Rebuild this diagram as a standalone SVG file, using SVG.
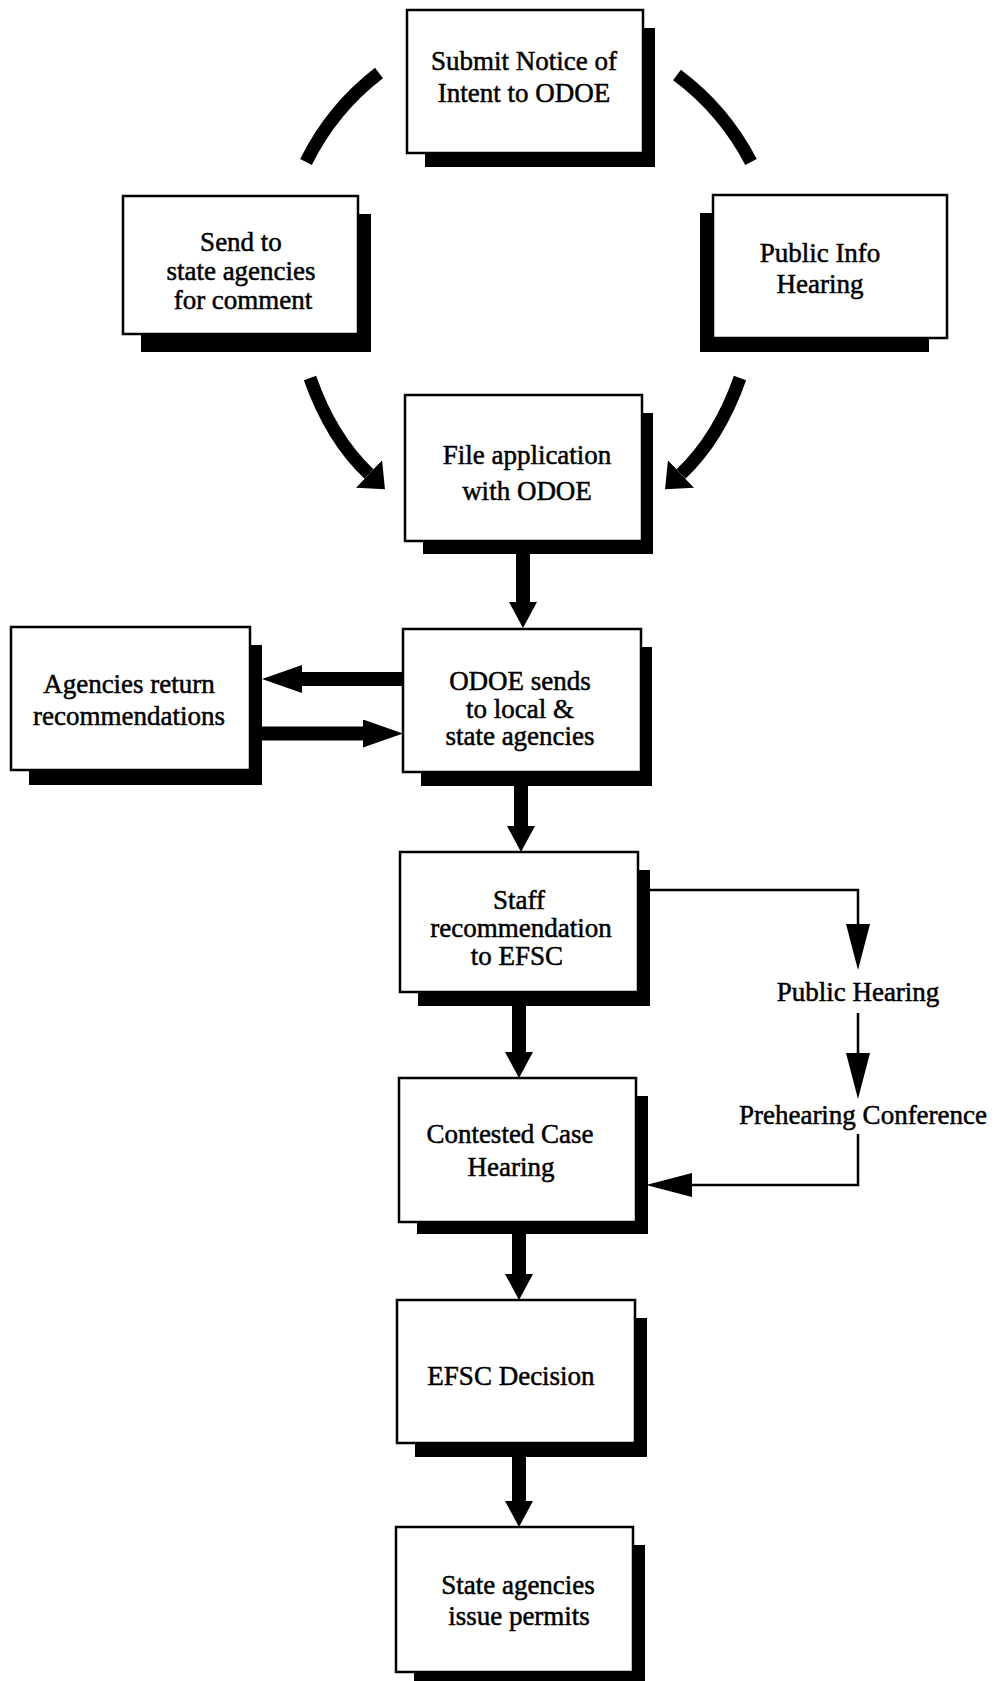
<svg xmlns="http://www.w3.org/2000/svg" width="995" height="1681" viewBox="0 0 995 1681">
<defs>
<style>
.box{fill:#fff;stroke:#000;stroke-width:2.5}
.sh{fill:#000}
.t{font-family:"Liberation Serif","Times New Roman",serif;font-size:27px;fill:#000;stroke:#000;stroke-width:0.5;text-anchor:middle}
.thick{fill:none;stroke:#000;stroke-width:14}
.arc{fill:none;stroke:#000;stroke-width:13}
.thin{fill:none;stroke:#000;stroke-width:2.5}
</style>
<marker id="hv" markerUnits="userSpaceOnUse" markerWidth="26" markerHeight="28" viewBox="0 0 26 28" refX="0" refY="14" orient="auto"><path d="M0,0 L26,14 L0,28 z" fill="#000"/></marker>
<marker id="hh" markerUnits="userSpaceOnUse" markerWidth="40" markerHeight="28" viewBox="0 0 40 28" refX="0" refY="14" orient="auto"><path d="M0,0 L40,14 L0,28 z" fill="#000"/></marker>
<marker id="hc" markerUnits="userSpaceOnUse" markerWidth="22" markerHeight="38" viewBox="0 0 22 38" refX="0" refY="19" orient="auto"><path d="M0,0 L22,19 L0,38 z" fill="#000"/></marker>
<marker id="ht" markerUnits="userSpaceOnUse" markerWidth="46" markerHeight="24" viewBox="0 0 46 24" refX="0" refY="12" orient="auto"><path d="M0,0 L46,12 L0,24 z" fill="#000"/></marker>
</defs>
<rect width="995" height="1681" fill="#fff"/>

<g id="submit-notice">
<rect class="sh" x="425" y="28" width="230" height="139"/>
<rect class="box" x="407" y="10" width="236" height="143"/>
<text class="t" x="524" y="70">Submit Notice of</text>
<text class="t" x="524" y="102">Intent to ODOE</text>
</g>

<g id="send-to-agencies">
<rect class="sh" x="141" y="214" width="230" height="138"/>
<rect class="box" x="123" y="196" width="235" height="138"/>
<text class="t" x="241" y="251">Send to</text>
<text class="t" x="241" y="280">state agencies</text>
<text class="t" x="243" y="309">for comment</text>
</g>

<g id="public-info-hearing">
<rect class="sh" x="700" y="213" width="229" height="139"/>
<rect class="box" x="713" y="195" width="234" height="143"/>
<text class="t" x="820" y="262">Public Info</text>
<text class="t" x="820" y="293">Hearing</text>
</g>

<g id="file-application">
<rect class="sh" x="423" y="413" width="230" height="141"/>
<rect class="box" x="405" y="395" width="237" height="146"/>
<text class="t" x="527" y="464">File application</text>
<text class="t" x="527" y="500">with ODOE</text>
</g>

<g id="agencies-return">
<rect class="sh" x="29" y="645" width="233" height="140"/>
<rect class="box" x="11" y="627" width="239" height="143"/>
<text class="t" x="129" y="693">Agencies return</text>
<text class="t" x="129" y="725">recommendations</text>
</g>

<g id="odoe-sends">
<rect class="sh" x="421" y="647" width="231" height="139"/>
<rect class="box" x="403" y="629" width="238" height="143"/>
<text class="t" x="520" y="690">ODOE sends</text>
<text class="t" x="520" y="718">to local &amp;</text>
<text class="t" x="520" y="745">state agencies</text>
</g>

<g id="staff-recommendation">
<rect class="sh" x="418" y="870" width="232" height="136"/>
<rect class="box" x="400" y="852" width="238" height="140"/>
<text class="t" x="519" y="909">Staff</text>
<text class="t" x="521" y="937">recommendation</text>
<text class="t" x="517" y="965">to EFSC</text>
</g>

<g id="contested-case">
<rect class="sh" x="417" y="1096" width="231" height="138"/>
<rect class="box" x="399" y="1078" width="237" height="144"/>
<text class="t" x="510" y="1143">Contested Case</text>
<text class="t" x="511" y="1176">Hearing</text>
</g>

<g id="efsc-decision">
<rect class="sh" x="415" y="1318" width="232" height="139"/>
<rect class="box" x="397" y="1300" width="238" height="143"/>
<text class="t" x="511" y="1385">EFSC Decision</text>
</g>

<g id="state-permits">
<rect class="sh" x="414" y="1545" width="231" height="145"/>
<rect class="box" x="396" y="1527" width="237" height="145"/>
<text class="t" x="518" y="1594">State agencies</text>
<text class="t" x="519" y="1625">issue permits</text>
</g>

<g id="public-hearing">
<text class="t" x="858" y="1001">Public Hearing</text>
</g>
<g id="prehearing-conference">
<text class="t" x="863" y="1124">Prehearing Conference</text>
</g>

<g id="connectors">
<path class="arc" d="M379,73 A254,254 0 0 0 306,162"/>
<path class="arc" d="M677,75 A254,254 0 0 1 751,162"/>
<path class="arc" d="M310,378 Q331,438 369,474" marker-end="url(#hc)"/>
<path class="arc" d="M740,378 Q719,438 681,474" marker-end="url(#hc)"/>
<path class="thick" d="M523,554 V602" marker-end="url(#hv)"/>
<path class="thick" d="M403,679 H302" marker-end="url(#hh)"/>
<path class="thick" d="M262,733.5 H363" marker-end="url(#hh)"/>
<path class="thick" d="M521,786 V826" marker-end="url(#hv)"/>
<path class="thick" d="M519,1006 V1052" marker-end="url(#hv)"/>
<path class="thick" d="M519,1234 V1274" marker-end="url(#hv)"/>
<path class="thick" d="M519,1457 V1501" marker-end="url(#hv)"/>
<path class="thin" d="M650,890 H858 V924" marker-end="url(#ht)"/>
<path class="thin" d="M858,1013 V1053" marker-end="url(#ht)"/>
<path class="thin" d="M858,1134 V1185 H692" marker-end="url(#ht)"/>
</g>
</svg>
